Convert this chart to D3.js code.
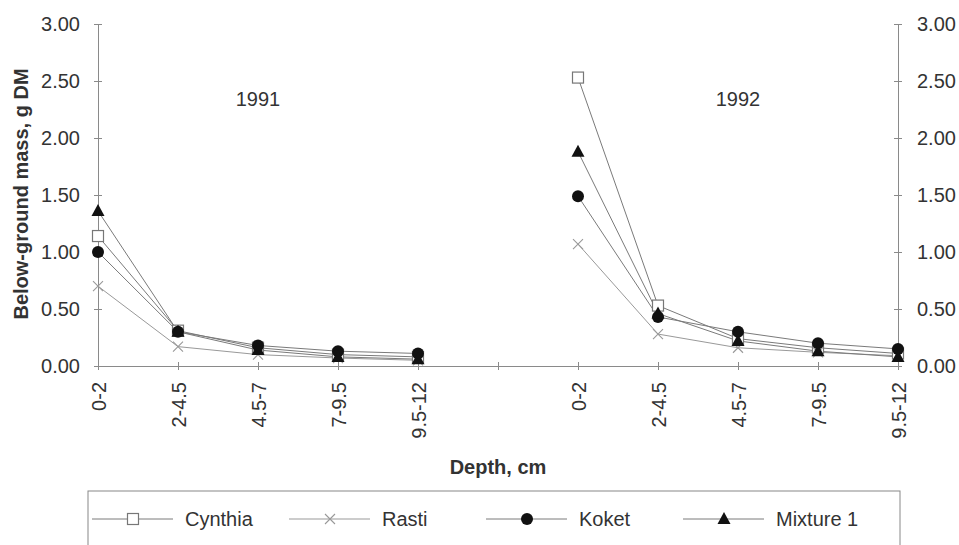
<!DOCTYPE html>
<html>
<head>
<meta charset="utf-8">
<script src="https://cdn.jsdelivr.net/npm/d3@7"></script>
<style>
body { margin: 0; background: #fff; }
svg { font-family: "Liberation Sans", Arial, sans-serif; }
</style>
</head>
<body>
<svg id="chart" width="959" height="545"></svg>
<script>
var depths = ["0-2", "2-4.5", "4.5-7", "7-9.5", "9.5-12"];
var years = ["1991", "1992"];
var yTicks = [0, 0.5, 1, 1.5, 2, 2.5, 3];

var cynthia91 = [1.14, 0.31, 0.16, 0.10, 0.08];
var cynthia92 = [2.53, 0.53, 0.24, 0.16, 0.11];
var rasti91 = [0.70, 0.17, 0.10, 0.07, 0.05];
var rasti92 = [1.07, 0.28, 0.16, 0.12, 0.09];
var koket91 = [1.00, 0.30, 0.18, 0.13, 0.11];
var koket92 = [1.49, 0.43, 0.30, 0.20, 0.15];
var mixture91 = [1.36, 0.30, 0.14, 0.08, 0.06];
var mixture92 = [1.88, 0.46, 0.22, 0.13, 0.08];

var series = [
    {name: "Cynthia", sym: "square", v: [cynthia91, cynthia92]},
    {name: "Rasti", sym: "cross", v: [rasti91, rasti92]},
    {name: "Koket", sym: "circle", v: [koket91, koket92]},
    {name: "Mixture 1", sym: "triangle", v: [mixture91, mixture92]}
];

// category slots: 5 depths per year with one empty slot between
var slots = depths.map(d => "1991|" + d).concat(["gap|"], depths.map(d => "1992|" + d));

var svg = d3.select("#chart");
var axisColor = "#8a8a8a";
var lineColor = "#7a7a7a";
var textColor = "#333";

var x = d3.scalePoint().domain(slots).range([98, 898]);
var y = d3.scaleLinear().domain([0, 3]).range([366, 24]);

function styleAxis(g) {
    g.select(".domain").attr("stroke", axisColor);
    g.selectAll(".tick line").attr("stroke", axisColor);
    g.selectAll(".tick text").attr("fill", textColor);
}

// x axis
var gx = svg.append("g")
    .attr("transform", "translate(0," + y(0) + ")")
    .call(d3.axisBottom(x).tickSize(4).tickSizeOuter(0).tickFormat(d => d.split("|")[1]));
gx.selectAll(".tick line").attr("y1", -4).attr("y2", 4);
gx.selectAll(".tick text")
    .attr("transform", "rotate(-90)")
    .attr("text-anchor", "end")
    .attr("x", -16)
    .attr("y", 0)
    .attr("dy", "0.35em")
    .style("font-size", "20px");
styleAxis(gx);

// left y axis
var gyl = svg.append("g")
    .attr("transform", "translate(98,0)")
    .call(d3.axisLeft(y).tickValues(yTicks).tickSize(4).tickSizeOuter(0).tickPadding(14).tickFormat(d3.format(".2f")));
gyl.selectAll(".tick line").attr("x1", -4).attr("x2", 4);
gyl.selectAll(".tick text").style("font-size", "20px");
styleAxis(gyl);

// right y axis
var gyr = svg.append("g")
    .attr("transform", "translate(898,0)")
    .call(d3.axisRight(y).tickValues(yTicks).tickSize(4).tickSizeOuter(0).tickPadding(15).tickFormat(d3.format(".2f")));
gyr.selectAll(".tick line").attr("x1", -4).attr("x2", 4);
gyr.selectAll(".tick text").style("font-size", "20px");
styleAxis(gyr);

// axis titles
svg.append("text")
    .attr("transform", "translate(21,194) rotate(-90)")
    .attr("text-anchor", "middle")
    .attr("dy", "0.35em")
    .style("font-size", "20px")
    .style("font-weight", "bold")
    .attr("fill", textColor)
    .text("Below-ground mass, g DM");

svg.append("text")
    .attr("x", 498).attr("y", 474)
    .attr("text-anchor", "middle")
    .style("font-size", "20px")
    .style("font-weight", "bold")
    .attr("fill", textColor)
    .text("Depth, cm");

// year labels
years.forEach(function(yr) {
    svg.append("text")
        .attr("x", x(yr + "|" + depths[2]))
        .attr("y", 106)
        .attr("text-anchor", "middle")
        .style("font-size", "20px")
        .attr("fill", textColor)
        .text(yr);
});

function drawMarker(g, sym) {
    if (sym === "square") {
        g.append("rect").attr("x", -5.5).attr("y", -5.5).attr("width", 11).attr("height", 11)
            .attr("fill", "#fff").attr("stroke", "#777").attr("stroke-width", 1.2);
    } else if (sym === "cross") {
        g.append("path").attr("d", "M-5,-5L5,5M-5,5L5,-5")
            .attr("stroke", "#999").attr("stroke-width", 1.1).attr("fill", "none");
    } else if (sym === "circle") {
        g.append("circle").attr("r", 6).attr("fill", "#111");
    } else {
        g.append("path").attr("d", "M0,-7L6.5,5L-6.5,5Z").attr("fill", "#111");
    }
}

var line = d3.line().x(d => x(d[0])).y(d => y(d[1]));

series.forEach(function(s) {
    years.forEach(function(yr, i) {
        var pts = depths.map((d, j) => [yr + "|" + d, s.v[i][j]]);
        svg.append("path")
            .datum(pts)
            .attr("d", line)
            .attr("fill", "none")
            .attr("stroke", s.sym === "cross" ? "#999" : lineColor)
            .attr("stroke-width", 1);
    });
});

series.forEach(function(s) {
    years.forEach(function(yr, i) {
        depths.forEach(function(d, j) {
            var g = svg.append("g")
                .attr("transform", "translate(" + x(yr + "|" + d) + "," + y(s.v[i][j]) + ")");
            drawMarker(g, s.sym);
        });
    });
});

// legend
var legend = svg.append("g");
legend.append("rect")
    .attr("x", 88).attr("y", 491).attr("width", 812).attr("height", 70)
    .attr("fill", "none").attr("stroke", "#888").attr("stroke-width", 1);

series.forEach(function(s, i) {
    var lx = 92 + i * 197;
    var ly = 519;
    var item = legend.append("g").attr("transform", "translate(" + lx + "," + ly + ")");
    item.append("line").attr("x1", 0).attr("x2", 81).attr("y1", 0).attr("y2", 0)
        .attr("stroke", s.sym === "cross" ? "#999" : lineColor).attr("stroke-width", 1);
    var m = item.append("g").attr("transform", "translate(41,0)");
    drawMarker(m, s.sym);
    item.append("text")
        .attr("x", 93).attr("y", 0).attr("dy", "0.35em")
        .style("font-size", "20px")
        .attr("fill", textColor)
        .text(s.name);
});
</script>
</body>
</html>
